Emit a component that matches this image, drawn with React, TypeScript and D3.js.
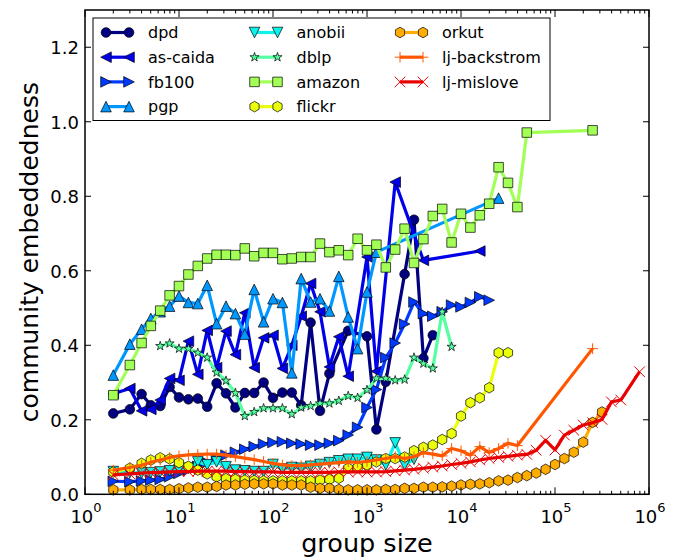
import React from 'react';
import * as d3 from 'd3';

const N = null;

// group size bins (2, 3, 4, then 10^(k/10) for k = 7..60)
const groupSizes = [2, 3, 4, 5.012, 6.310, 7.943, 10, 12.59, 15.85, 19.95, 25.12, 31.62, 39.81, 50.12, 63.10, 79.43,
  100, 125.9, 158.5, 199.5, 251.2, 316.2, 398.1, 501.2, 631.0, 794.3,
  1000, 1259, 1585, 1995, 2512, 3162, 3981, 5012, 6310, 7943,
  10000, 12589, 15849, 19953, 25119, 31623, 39811, 50119, 63096, 79433,
  100000, 125893, 158489, 199526, 251189, 316228, 398107, 501187, 630957, 794328, 1000000];

const dpdValues = [0.217, 0.228, 0.269, 0.239, 0.237, 0.288, 0.260, 0.255, 0.257, 0.235,
  0.298, 0.271, 0.233, 0.272, 0.272, 0.300, 0.259, 0.273, 0.273, 0.239,
  0.461, 0.224, 0.324, N, 0.439, N, 0.424, 0.174, 0.302, N,
  0.591, 0.737, 0.365, 0.427];
const asCaidaValues = [0.270, 0.284, 0.224, 0.228, 0.253, 0.311, 0.306, 0.411, 0.322, 0.440,
  0.340, 0.438, 0.375, 0.487, 0.340, 0.420, 0.427, 0.338, 0.400, 0.478,
  0.566, 0.490, 0.342, 0.423, 0.317, N, 0.637, 0.330, N, 0.838,
  N, N, 0.628, N, N, N, N, N, 0.653];
const fb100Values = [0.035, 0.034, 0.036, 0.038, 0.040, 0.047, 0.056, 0.065, 0.075, 0.085,
  0.095, 0.105, 0.113, 0.121, 0.128, 0.135, 0.139, 0.141, 0.137, 0.135,
  0.132, 0.132, 0.137, 0.144, 0.159, 0.180, 0.233, 0.281, 0.367, 0.406,
  0.457, 0.516, 0.485, 0.478, 0.490, 0.508, 0.503, 0.515, 0.530, 0.521];
const pgpValues = [0.320, 0.403, 0.443, 0.472, 0.490, 0.505, 0.532, 0.515, 0.512, 0.561,
  0.458, 0.505, 0.485, 0.430, 0.550, 0.463, 0.525, 0.515, 0.326, 0.579,
  0.516, 0.525, 0.492, 0.585, 0.476, 0.391, 0.543, 0.650, N, N,
  N, N, N, N, N, N, N, N, N, N,
  0.795];
const anobiiValues = [0.061, 0.058, 0.057, 0.058, 0.060, 0.063, 0.066, 0.070, 0.087, 0.079,
  0.087, 0.074, 0.065, 0.063, 0.061, 0.061, 0.080, 0.068, 0.072, 0.070,
  0.075, 0.080, 0.085, 0.090, 0.094, 0.094, 0.099, 0.092, 0.079, 0.138,
  0.079, 0.094];
const dblpValues = [N, N, N, N, 0.398, 0.405, 0.391, 0.391, 0.380, 0.367,
  0.327, 0.305, 0.272, 0.210, 0.221, 0.231, 0.231, 0.231, 0.215, 0.233,
  0.237, 0.244, 0.244, 0.251, 0.264, 0.259, 0.280, 0.311, 0.311, 0.306,
  0.308, 0.367, 0.351, 0.338, 0.490, 0.396];
const amazonValues = [0.266, 0.347, 0.406, 0.452, 0.493, 0.534, 0.559, 0.590, 0.613, 0.633,
  0.643, 0.643, 0.642, 0.660, 0.639, 0.648, 0.648, 0.631, 0.633, 0.637,
  0.637, 0.673, 0.650, 0.655, 0.642, 0.686, 0.655, 0.670, 0.609, 0.657,
  0.713, 0.621, 0.685, 0.747, 0.766, 0.676, 0.753, 0.716, 0.749, 0.780,
  0.878, 0.836, 0.771, 0.971, N, N, N, N, N, N,
  0.977];
const flickrValues = [0.060, 0.070, 0.083, 0.092, 0.098, 0.095, 0.085, 0.075, 0.065, 0.055,
  0.047, 0.042, 0.040, 0.038, 0.037, 0.036, 0.036, 0.036, 0.036, 0.036,
  0.036, 0.038, 0.040, 0.043, 0.070, 0.072, 0.079, 0.087, 0.096, 0.096,
  0.100, 0.117, 0.126, 0.132, 0.147, 0.163, 0.210, 0.246, 0.259, 0.286,
  0.380, 0.380];
const orkutValues = [0.012, 0.012, 0.013, 0.013, 0.013, 0.013, 0.015, 0.017, 0.019, 0.019,
  0.021, 0.025, 0.025, 0.027, 0.028, 0.028, 0.028, 0.025, 0.025, 0.025,
  0.019, 0.016, 0.016, 0.013, 0.012, 0.012, 0.012, 0.012, 0.013, 0.013,
  0.016, 0.016, 0.019, 0.019, 0.020, 0.022, 0.025, 0.027, 0.028, 0.031,
  0.036, 0.038, 0.045, 0.050, 0.057, 0.067, 0.080, 0.096, 0.113, 0.140,
  0.193, 0.221];
const ljBackstromValues = [0.065, 0.072, 0.078, 0.086, 0.092, 0.099, 0.103, 0.106, 0.107, 0.108,
  0.108, 0.105, 0.101, 0.097, 0.093, 0.088, 0.083, 0.079, 0.077, 0.077,
  0.079, 0.081, 0.083, 0.085, 0.087, 0.086, 0.088, 0.092, 0.096, 0.101,
  0.096, 0.101, 0.112, 0.108, 0.103, 0.123, 0.117, 0.105, 0.128, 0.112,
  0.123, 0.137, 0.131, N, N, N, N, N, N, N,
  0.391];
const ljMisloveValues = [0.052, 0.055, 0.057, 0.058, 0.059, 0.060, 0.061, 0.061, 0.062, 0.062,
  0.062, 0.062, 0.061, 0.061, 0.060, 0.060, 0.060, 0.059, 0.059, 0.059,
  0.059, 0.059, 0.059, 0.060, 0.060, 0.060, 0.060, 0.060, 0.061, 0.063,
  0.065, 0.067, 0.070, 0.073, 0.076, 0.080, 0.083, 0.087, 0.092, 0.096,
  0.099, 0.102, 0.105, 0.107, 0.118, 0.145, 0.119, 0.159, 0.172, 0.186,
  0.192, 0.201, 0.248, 0.253, N, 0.329];

const seriesNames = ['dpd', 'as-caida', 'fb100', 'pgp', 'anobii', 'dblp', 'amazon', 'flickr', 'orkut', 'lj-backstrom', 'lj-mislove'];
const seriesValues = [dpdValues, asCaidaValues, fb100Values, pgpValues, anobiiValues, dblpValues, amazonValues, flickrValues, orkutValues, ljBackstromValues, ljMisloveValues];
const seriesColors = ['#000080', '#0000e9', '#003aff', '#0097ff', '#0bf3eb', '#56ffa1', '#a1ff56', '#ebff0b', '#ffad00', '#ff5700', '#e90000'];
const seriesMarkers = ['o', '<', '>', '^', 'v', '*', 's', 'h', 'h', '+', 'x'];

const xMajorTicks = [1, 10, 100, 1000, 10000, 100000, 1000000];
const xTickExponents = ['0', '1', '2', '3', '4', '5', '6'];
const yTicks = [0, 0.2, 0.4, 0.6, 0.8, 1.0, 1.2];
const yTickLabels = ['0.0', '0.2', '0.4', '0.6', '0.8', '1.0', '1.2'];

const FONT = 'DejaVu Sans, Verdana, sans-serif';
const PLOT = { left: 85, right: 649, top: 10, bottom: 494.3 };

function markerPath(shape: string, r: number): string {
  switch (shape) {
    case 'o': {
      const p = d3.path();
      p.arc(0, 0, r * 0.95, 0, Math.PI * 2);
      p.closePath();
      return p.toString();
    }
    case '^': return `M0,${-r}L${r},${r}L${-r},${r}Z`;
    case 'v': return `M0,${r}L${r},${-r}L${-r},${-r}Z`;
    case '<': return `M${-r},0L${r},${-r}L${r},${r}Z`;
    case '>': return `M${r},0L${-r},${-r}L${-r},${r}Z`;
    case 's': { const s = r * 0.9; return `M${-s},${-s}H${s}V${s}H${-s}Z`; }
    case 'h': {
      const pts = d3.range(6).map(k => {
        const a = -Math.PI / 2 + k * Math.PI / 3;
        return [r * Math.cos(a), r * Math.sin(a)];
      });
      return 'M' + pts.map(p => p.join(',')).join('L') + 'Z';
    }
    case '*': {
      const pts = d3.range(10).map(k => {
        const a = -Math.PI / 2 + k * Math.PI / 5;
        const rr = k % 2 === 0 ? r : r * 0.381966;
        return [rr * Math.cos(a), rr * Math.sin(a)];
      });
      return 'M' + pts.map(p => p.join(',')).join('L') + 'Z';
    }
    case '+': return `M${-r},0H${r}M0,${-r}V${r}`;
    case 'x': return `M${-r},${-r}L${r},${r}M${-r},${r}L${r},${-r}`;
    default: return '';
  }
}

function Marker({ shape, color, cx, cy }: { shape: string; color: string; cx: number; cy: number }) {
  const open = shape === '+' || shape === 'x';
  const r = shape === '*' ? 4.8 : shape === 'o' ? 5.1 : 5.3;
  return (
    <path
      d={markerPath(shape, r)}
      transform={`translate(${cx},${cy})`}
      fill={open ? 'none' : color}
      stroke={open ? color : '#000'}
      strokeWidth={open ? 1 : 0.7}
      strokeLinejoin="miter"
    />
  );
}

export default function App() {
  const x = d3.scaleLog().domain([1, 1e6]).range([PLOT.left, PLOT.right]);
  const y = d3.scaleLinear().domain([0, 1.3]).range([PLOT.bottom, PLOT.top]);
  const line = d3.line<[number, number]>().x(d => x(d[0])).y(d => y(d[1]));

  const series = seriesNames.map((name, i) => {
    const pts: [number, number][] = [];
    seriesValues[i].forEach((v, j) => {
      if (v !== null && v !== undefined) pts.push([groupSizes[j], v as number]);
    });
    return { name, pts, color: seriesColors[i], marker: seriesMarkers[i] };
  });

  const minorTicks = x.ticks().filter(t => !xMajorTicks.includes(t));

  const legendCols = [106, 254.5, 400];
  const legendRow0 = 32.5;
  const legendRowStep = 24.7;

  return (
    <svg width={680} height={560} style={{ position: 'absolute', left: 0, top: 0, background: '#fff' }}
      fontFamily={FONT}>
      <rect x={0} y={0} width={680} height={560} fill="#fff" />
      {/* data */}
      <g>
        {series.map(s => (
          <g key={s.name}>
            <path d={line(s.pts) || ''} fill="none" stroke={s.color} strokeWidth={3.2} strokeLinejoin="round" strokeLinecap="butt" />
            {s.pts.map((p, k) => (
              <Marker key={k} shape={s.marker} color={s.color} cx={x(p[0])} cy={y(p[1])} />
            ))}
          </g>
        ))}
      </g>
      {/* ticks */}
      <g stroke="#000" strokeWidth={1}>
        {xMajorTicks.map(t => (
          <g key={'xM' + t}>
            <line x1={x(t)} x2={x(t)} y1={PLOT.bottom} y2={PLOT.bottom - 7} />
            <line x1={x(t)} x2={x(t)} y1={PLOT.top} y2={PLOT.top + 7} />
          </g>
        ))}
        {minorTicks.map(t => (
          <g key={'xm' + t}>
            <line x1={x(t)} x2={x(t)} y1={PLOT.bottom} y2={PLOT.bottom - 3.5} />
            <line x1={x(t)} x2={x(t)} y1={PLOT.top} y2={PLOT.top + 3.5} />
          </g>
        ))}
        {yTicks.map(t => (
          <g key={'y' + t}>
            <line x1={PLOT.left} x2={PLOT.left + 6} y1={y(t)} y2={y(t)} />
            <line x1={PLOT.right} x2={PLOT.right - 6} y1={y(t)} y2={y(t)} />
          </g>
        ))}
      </g>
      {/* frame */}
      <rect x={PLOT.left} y={PLOT.top} width={PLOT.right - PLOT.left} height={PLOT.bottom - PLOT.top}
        fill="none" stroke="#000" strokeWidth={1.5} />
      {/* tick labels */}
      <g fontSize={18} fill="#000">
        {yTicks.map((t, i) => (
          <text key={'yl' + t} x={PLOT.left - 6} y={y(t) + 7} textAnchor="end">{yTickLabels[i]}</text>
        ))}
        {xMajorTicks.map((t, i) => (
          <text key={'xl' + t} x={x(t) + 1} y={523} textAnchor="middle">
            <tspan>10</tspan>
            <tspan fontSize={13} dy={-11}>{xTickExponents[i]}</tspan>
          </text>
        ))}
      </g>
      {/* axis labels */}
      <text x={(PLOT.left + PLOT.right) / 2} y={552} textAnchor="middle" fontSize={25.5}>group size</text>
      <text transform={`translate(38,${(PLOT.top + PLOT.bottom) / 2}) rotate(-90)`} textAnchor="middle" fontSize={25}>community embeddedness</text>
      {/* legend */}
      <g>
        <rect x={93} y={18} width={457} height={102.5} fill="#fff" stroke="#000" strokeWidth={1} />
        {series.map((s, i) => {
          const col = Math.floor(i / 4);
          const row = i % 4;
          const lx = legendCols[col];
          const ly = legendRow0 + row * legendRowStep;
          return (
            <g key={'lg' + s.name}>
              <line x1={lx} x2={lx + 23} y1={ly} y2={ly} stroke={s.color} strokeWidth={3.2} />
              <Marker shape={s.marker} color={s.color} cx={lx} cy={ly} />
              <Marker shape={s.marker} color={s.color} cx={lx + 23} cy={ly} />
              <text x={lx + 42} y={ly + 5.8} fontSize={16}>{s.name}</text>
            </g>
          );
        })}
      </g>
    </svg>
  );
}
